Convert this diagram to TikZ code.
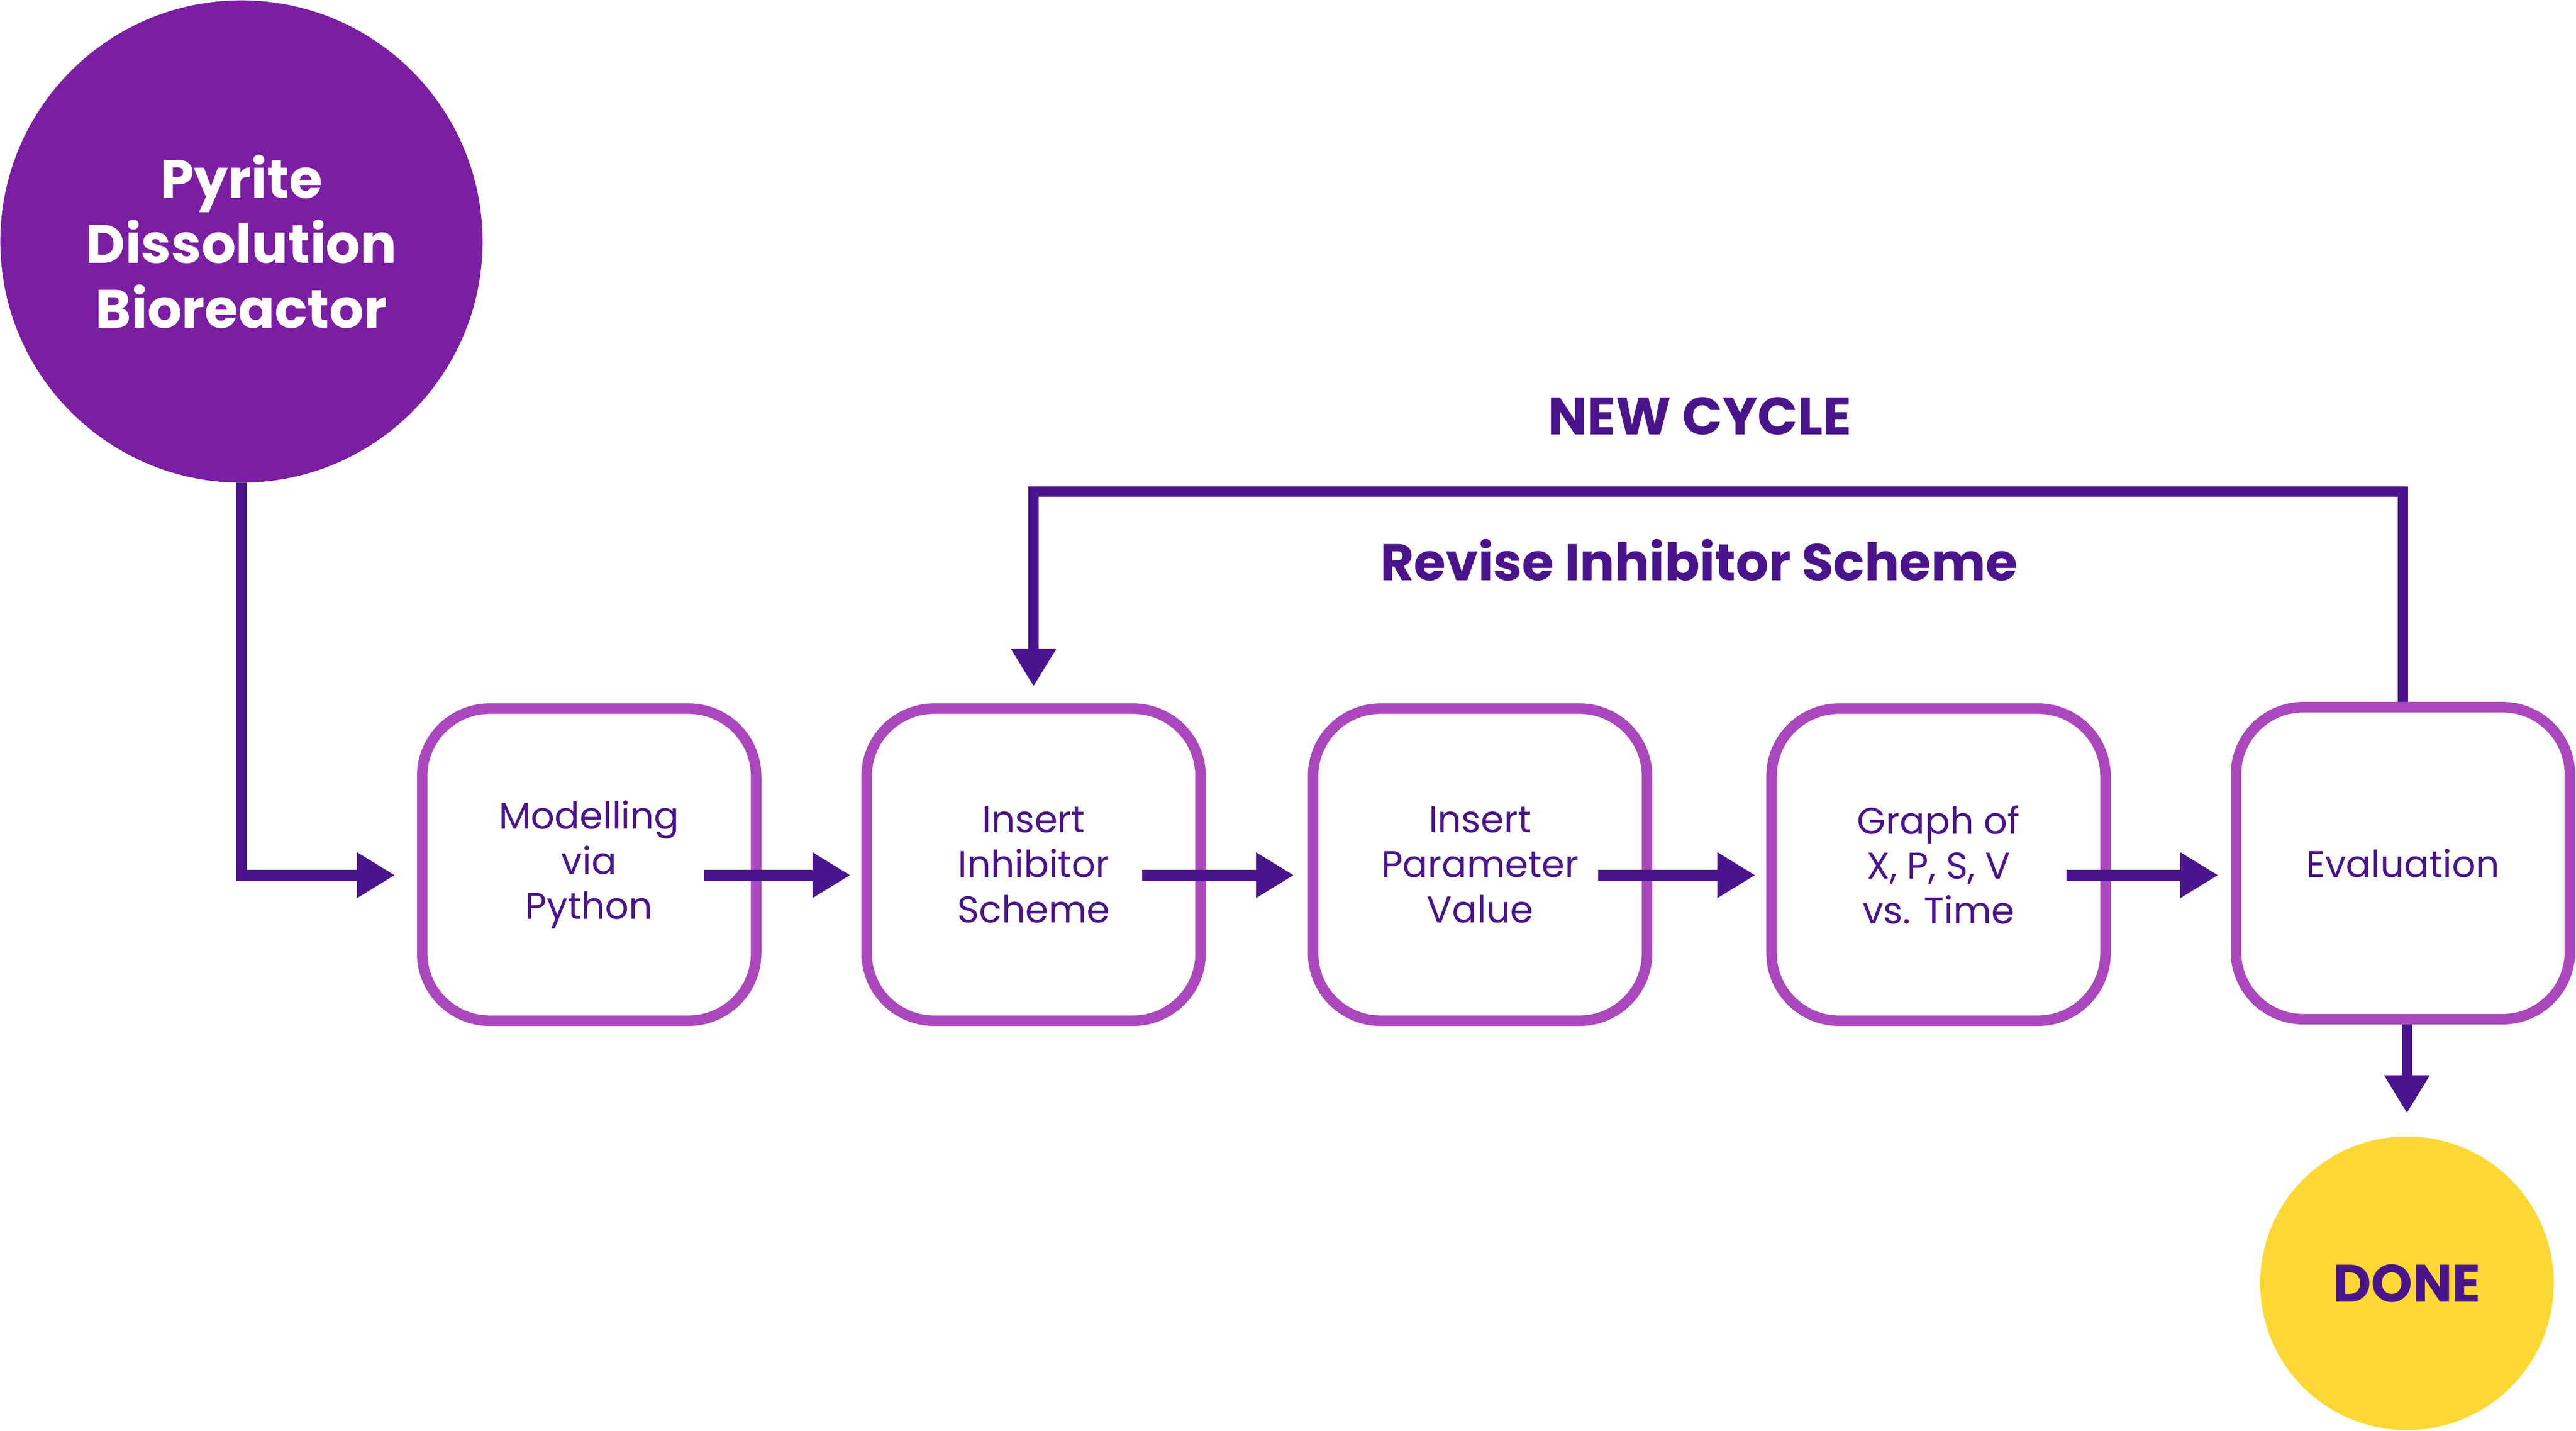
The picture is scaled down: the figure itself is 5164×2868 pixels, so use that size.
\documentclass[tikz,border=0pt]{standalone}
\usepackage{fontspec}
\setmainfont{Poppins}
\usetikzlibrary{arrows.meta,calc}
\definecolor{srcpurple}{HTML}{7B1FA2}
\definecolor{boxpurple}{HTML}{AB47BC}
\definecolor{darkpurple}{HTML}{4A148C}
\definecolor{doneyellow}{HTML}{FDD835}
\begin{document}
\begin{tikzpicture}[x=0.01cm,y=-0.01cm,
  stepbox/.style={draw=boxpurple, line width=0.21cm, rounded corners=1.35cm,
    minimum width=6.69cm, minimum height=6.25cm, align=center, text=darkpurple,
    font=\fontsize{21.2}{25.6}\selectfont, fill=white, inner sep=0pt},
  flow/.style={draw=darkpurple, line width=0.21cm,
    -{Triangle[length=0.76cm,width=0.86cm]}},
  heading/.style={text=darkpurple, font=\bfseries\fontsize{30}{36}\selectfont, inner sep=0pt},
]
\useasboundingbox (0,0) rectangle (5164,2868);

\node[circle, fill=srcpurple, minimum size=9.66cm, inner sep=0pt, text=white,
  font=\bfseries\fontsize{30.8}{37}\selectfont, align=center] (src) at (484,484)
  {Pyrite\\Dissolution\\Bioreactor};

\node[stepbox] (b1) at (1181,1733) {Modelling\\via\\Python};
\node[stepbox] (b2) at (2072,1733) {Insert\\Inhibitor\\Scheme};
\node[stepbox] (b3) at (2967,1733) {Insert\\Parameter\\Value};
\node[stepbox] (b4) at (3886,1733) {Graph of\\X, P, S, V\\vs. Time};
\node[stepbox] (b5) at (4817,1730) {Evaluation};

\node[circle, fill=doneyellow, minimum size=5.88cm, inner sep=0pt, text=darkpurple,
  font=\bfseries\fontsize{30}{36}\selectfont] (done) at (4825,2572) {DONE};

\node[heading] (newcycle) at (3407,834) {NEW CYCLE};
\node[heading, font=\bfseries\fontsize{29.4}{36}\selectfont] (revise) at (3406,1122) {Revise Inhibitor Scheme};

\draw[flow] (src.south) |- ($(b1.west)+(-44,21)$);
\draw[flow] ($(b1.center)+(231,21)$) -- ($(b2.west)+(-22,21)$);
\draw[flow] ($(b2.center)+(218,21)$) -- ($(b3.west)+(-28,21)$);
\draw[flow] ($(b3.center)+(237,21)$) -- ($(b4.west)+(-22,21)$);
\draw[flow] ($(b4.center)+(256,21)$) -- ($(b5.west)+(-25,24)$);

\coordinate (fbtop) at (4817,985);
\draw[flow] (b5.north) -- (fbtop) -| ($(b2.north)+(0,-34)$);
\draw[flow] (b5.south -| done.north) -- ($(done.north)+(0,-46)$);
\end{tikzpicture}
\end{document}
